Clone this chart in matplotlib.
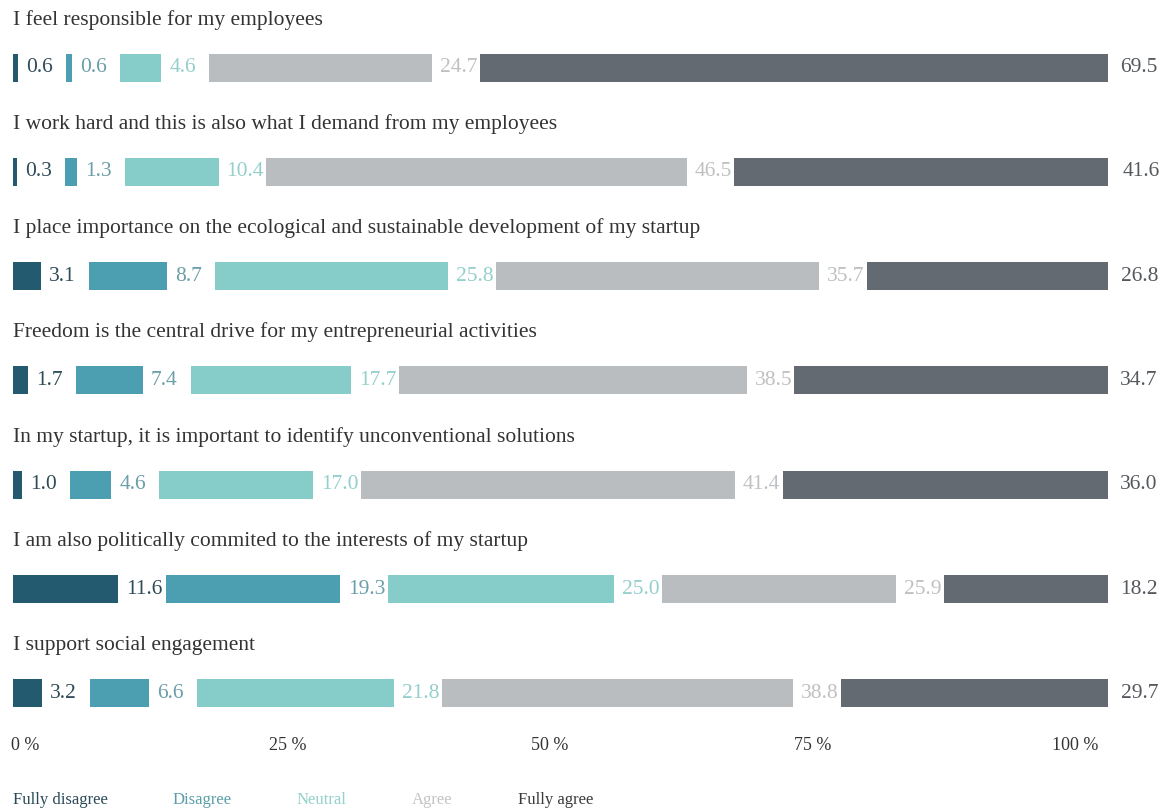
import matplotlib
matplotlib.use("Agg")
import matplotlib.pyplot as plt
from matplotlib.patches import Rectangle

questions = [
    "I feel responsible for my employees",
    "I work hard and this is also what I demand from my employees",
    "I place importance on the ecological and sustainable development of my startup",
    "Freedom is the central drive for my entrepreneurial activities",
    "In my startup, it is important to identify unconventional solutions",
    "I am also politically commited to the interests of my startup",
    "I support social engagement",
]
categories = ["Fully disagree", "Disagree", "Neutral", "Agree", "Fully agree"]
fully_disagree = [0.6, 0.3, 3.1, 1.7, 1.0, 11.6, 3.2]
disagree = [0.6, 1.3, 8.7, 7.4, 4.6, 19.3, 6.6]
neutral = [4.6, 10.4, 25.8, 17.7, 17.0, 25.0, 21.8]
agree = [24.7, 46.5, 35.7, 38.5, 41.4, 25.9, 38.8]
fully_agree = [69.5, 41.6, 26.8, 34.7, 36.0, 18.2, 29.7]
series = [fully_disagree, disagree, neutral, agree, fully_agree]
ticks = [0, 25, 50, 75, 100]
tick_labels = ["0 %", "25 %", "50 %", "75 %", "100 %"]

bar_colors = ["#245a70", "#4b9fb1", "#86ccc8", "#babdc0", "#636a72"]
label_colors = ["#2f4b58", "#6a9ea8", "#94cfcb", "#bfc0c2", "#55595e"]
legend_colors = ["#2a4a58", "#5b9eaa", "#94d0cc", "#c4c4c6", "#3a3a3a"]

plt.rcParams["font.family"] = ["Liberation Serif", "DejaVu Serif"]

W, H = 1167, 810
fig = plt.figure(figsize=(W / 100, H / 100), dpi=100)
fig.patch.set_facecolor("white")

x0_px, span_px = 13, 1095
GAP = 5.3
total = 100 + 4 * GAP
row_px = 104.3
first_px = 67.5

ax = fig.add_axes([x0_px / W, 0, span_px / W, 1])
ax.set_xlim(0, total)
ax.set_ylim((H - first_px) / row_px, -first_px / row_px)
ax.axis("off")

bar_h = 28 / row_px
for i, q in enumerate(questions):
    left = 0.0
    for j, s in enumerate(series):
        v = s[i]
        w = max(v, 0.45)
        ax.barh(i, w, left=left, height=bar_h, color=bar_colors[j], linewidth=0)
        off = 12 if j == len(series) - 1 else 8
        ax.annotate(f"{v:.1f}", xy=(left + w, i), xytext=(off, 0),
                    textcoords="offset pixels", ha="left", va="center",
                    fontsize=15.5, color=label_colors[j], annotation_clip=False)
        left += w + GAP
    ax.text(0, i - 43 / row_px, q, ha="left", va="baseline", fontsize=15.5,
            color="#333333")

# percentage axis: tick centres at 25 px + 10.5 px per percent
ax2 = fig.add_axes([x0_px / W, (H - 745) / H, span_px / W, 1e-4])
m = 10.5
a = -(25 - x0_px) / m
ax2.set_xlim(a, a + span_px / m)
ax2.set_xticks(ticks)
ax2.set_xticklabels(tick_labels, fontsize=13, color="#333333")
ax2.tick_params(axis="x", length=0, pad=0)
for lbl in ax2.get_xticklabels():
    lbl.set_va("center")
ax2.set_yticks([])
for sp in ax2.spines.values():
    sp.set_visible(False)
ax2.patch.set_alpha(0)

# legend (text only)
handles = [Rectangle((0, 0), 0, 0, visible=False) for _ in categories]
fs = 12
leg = fig.legend(handles, categories, loc="center left",
                 bbox_to_anchor=(x0_px / W, 1 - 800 / H), ncol=5,
                 frameon=False, handlelength=0, handletextpad=0,
                 columnspacing=65 / (fs * 100 / 72), borderpad=0,
                 borderaxespad=0, fontsize=fs, labelcolor=legend_colors)

fig.savefig("out.png", dpi=100, facecolor="white")
